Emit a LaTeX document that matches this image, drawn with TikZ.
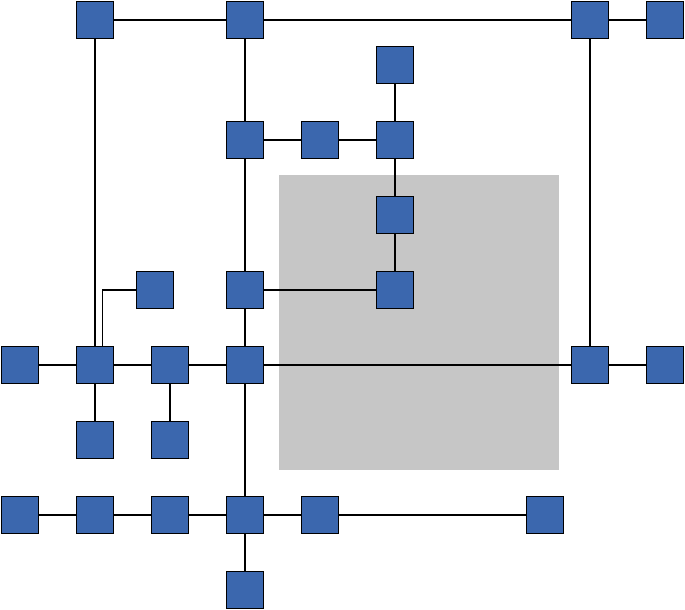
\documentclass[tikz,border=0pt]{standalone}
\usepackage{tikz}
\usepackage{xcolor}
\definecolor{boxblue}{RGB}{59,103,174}
\definecolor{panelgray}{RGB}{198,198,198}
\tikzstyle{blk} = [rectangle, draw, fill=boxblue, minimum size=27.75pt, inner sep=0pt]
\begin{document}
\begin{tikzpicture}[x=0.75pt,y=-0.75pt,node distance=56.25pt,line width=0.8pt]
  \useasboundingbox (0,0) rectangle (685,610);
  \fill[panelgray] (279,175) rectangle (559,470);

  \node[blk] (F1) at (20,365) {};
  \node[blk] (F2) [right of=F1] {};
  \node[blk] (F3) [right of=F2] {};
  \node[blk] (F4) [right of=F3] {};
  \node[blk] (F5) at (590,365) {};
  \node[blk] (F6) [right of=F5] {};
  \node[blk] (G1) [below of=F2] {};
  \node[blk] (G2) [below of=F3] {};
  \node[blk] (H2) [below of=G1] {};
  \node[blk] (H1) [left of=H2] {};
  \node[blk] (H3) [below of=G2] {};
  \node[blk] (H4) [right of=H3] {};
  \node[blk] (H5) [right of=H4] {};
  \node[blk] (H6) at (545,515) {};
  \node[blk] (I1) [below of=H4] {};
  \node[blk] (E2) [above of=F4] {};
  \node[blk] (E1) at (155,290) {};
  \node[blk] (E3) at (395,290) {};
  \node[blk] (D1) [above of=E3] {};
  \node[blk] (C3) [above of=D1] {};
  \node[blk] (B1) [above of=C3] {};
  \node[blk] (C2) [left of=C3] {};
  \node[blk] (C1) [left of=C2] {};
  \node[blk] (A2) at (245,20) {};
  \node[blk] (A1) at (95,20) {};
  \node[blk] (A3) at (590,20) {};
  \node[blk] (A4) [right of=A3] {};

  \path (A1) edge (A2);
  \path (A2) edge (A3);
  \path (A3) edge (A4);
  \path (A1) edge (F2);
  \path (A2) edge (C1);
  \path (A3) edge (F5);
  \path (B1) edge (C3);
  \path (C1) edge (C2);
  \path (C2) edge (C3);
  \path (C3) edge (D1);
  \path (D1) edge (E3);
  \path (C1) edge (E2);
  \path (E2) edge (E3);
  \path (E2) edge (F4);
  \draw ([xshift=5.6pt]F2.north) |- (E1.west);
  \path (F1) edge (F2);
  \path (F2) edge (F3);
  \path (F3) edge (F4);
  \path (F4) edge (F5);
  \path (F5) edge (F6);
  \path (F2) edge (G1);
  \path (F3) edge (G2);
  \path (F4) edge (H4);
  \path (H1) edge (H2);
  \path (H2) edge (H3);
  \path (H3) edge (H4);
  \path (H4) edge (H5);
  \path (H5) edge (H6);
  \path (H4) edge (I1);
\end{tikzpicture}
\end{document}
